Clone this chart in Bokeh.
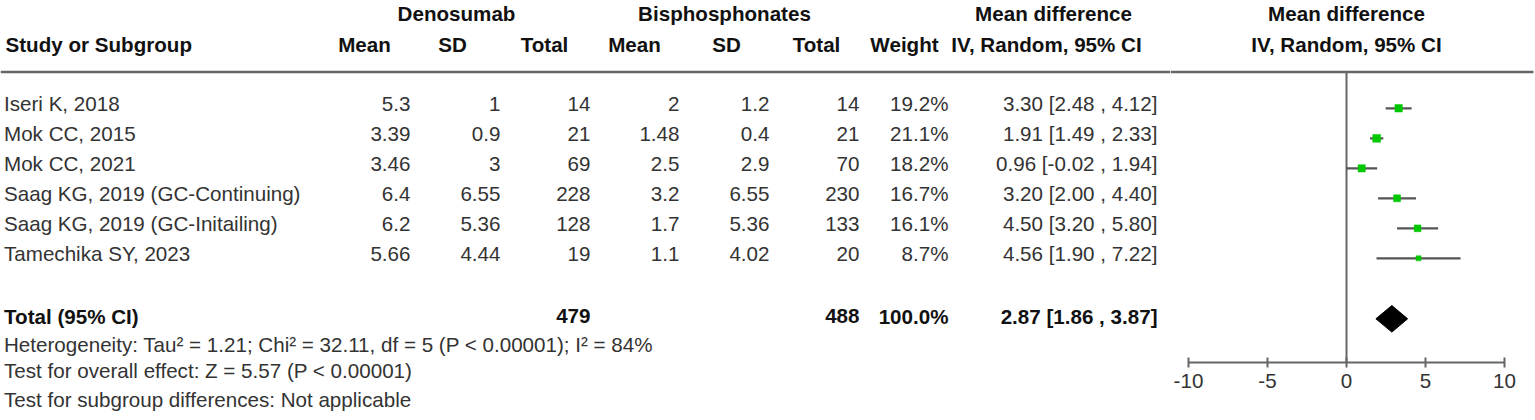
from bokeh.plotting import figure
from bokeh.layouts import row
from bokeh.models import Range1d, FixedTicker, Title, LinearAxis
from bokeh.core.properties import value
from bokeh.embed import file_html
from bokeh.resources import INLINE

# ---------------- data ----------------
studies = ["Iseri K, 2018", "Mok CC, 2015", "Mok CC, 2021",
           "Saag KG, 2019 (GC-Continuing)", "Saag KG, 2019 (GC-Initailing)",
           "Tamechika SY, 2023"]
den_mean = [5.3, 3.39, 3.46, 6.4, 6.2, 5.66]
den_sd = [1, 0.9, 3, 6.55, 5.36, 4.44]
den_total = [14, 21, 69, 228, 128, 19]
bis_mean = [2, 1.48, 2.5, 3.2, 1.7, 1.1]
bis_sd = [1.2, 0.4, 2.9, 6.55, 5.36, 4.02]
bis_total = [14, 21, 70, 230, 133, 20]
weight = [19.2, 21.1, 18.2, 16.7, 16.1, 8.7]
md = [3.30, 1.91, 0.96, 3.20, 4.50, 4.56]
ci_low = [2.48, 1.49, -0.02, 2.00, 3.20, 1.90]
ci_high = [4.12, 2.33, 1.94, 4.40, 5.80, 7.22]

total_den = 479
total_bis = 488
total_weight = 100.0
total_md = 2.87
total_low = 1.86
total_high = 3.87

heterogeneity = "Heterogeneity: Tau\u00b2 = 1.21; Chi\u00b2 = 32.11, df = 5 (P < 0.00001); I\u00b2 = 84%"
overall = "Test for overall effect: Z = 5.57 (P < 0.00001)"
subgroup = "Test for subgroup differences: Not applicable"
axis_ticks = [-10, -5, 0, 5, 10]

header1 = ["Denosumab", "Bisphosphonates", "Mean difference"]
header2 = ["Mean", "SD", "Total", "Mean", "SD", "Total", "Weight", "IV, Random, 95% CI"]
plot_header1 = "Mean difference"
plot_header2 = "IV, Random, 95% CI"
header_study = "Study or Subgroup"
total_label = "Total (95% CI)"

# ---------------- layout / style ----------------
FONT = "Liberation Sans"
FS = "20.6px"
TXT = "#333333"
BOLD = "#111111"
LINE = "#666666"
GREEN = "#00c800"

W, H = 1535, 420
LEFT_W = 1170
RIGHT_W = W - LEFT_W
AX_Y = 362                   # y of the plot's axis line (px from top)
ZERO_X, UNIT = 1346.0, 15.8  # px of 0 and px per unit on the MD scale

ROW0, ROW_H = 103.3, 30.0
MARK_DY = 4.5
H1_Y, H2_Y, HLINE_Y = 13.0, 44.0, 71.5
TOTAL_Y, HET_Y = 315.8, 344.0
DIAMOND_HALF = 13.3
LINE_END = 1533

NAME_X = 3.5
COL_RIGHT = [410, 500, 590, 679, 769, 859, 948, 1157]
H1_CENTER = [456, 724, 1053]
H2_CENTER = [364, 452, 544, 634, 726, 816, 904, 1046]
FOOT_STANDOFF = [-6.6, 14.6]


def fmt(v):
    return f"{v:g}"


row_y = [ROW0 + ROW_H * i for i in range(len(studies))]
mark_y = [y + MARK_DY for y in row_y]


def base_fig(width, xr):
    f = figure(width=width, height=H, output_backend="svg", toolbar_location=None,
               x_range=xr, y_range=Range1d(AX_Y, 0),
               x_axis_location=None, y_axis_location=None,
               min_border=0, min_border_left=0, min_border_right=0,
               min_border_top=0, min_border_bottom=H - AX_Y)
    f.grid.visible = False
    f.outline_line_color = None
    f.background_fill_color = "white"
    f.border_fill_color = "white"
    return f


def txt(f, xs, ys, texts, align, bold=False):
    f.text(x=xs, y=ys, text=texts, text_align=align, text_baseline="middle",
           text_font=value(FONT), text_font_size=FS,
           text_font_style="bold" if bold else "normal",
           text_color=BOLD if bold else TXT)


# ================= left: table =================
p = base_fig(LEFT_W, Range1d(0, LEFT_W))

txt(p, H1_CENTER, [H1_Y] * 3, header1, "center", bold=True)
txt(p, H2_CENTER, [H2_Y] * len(header2), header2, "center", bold=True)
txt(p, [5], [H2_Y], [header_study], "left", bold=True)
p.segment(x0=[0], y0=[HLINE_Y], x1=[LEFT_W], y1=[HLINE_Y],
          line_color=LINE, line_width=2.5)

n = len(studies)
txt(p, [NAME_X] * n, row_y, studies, "left")
columns = [
    [fmt(v) for v in den_mean],
    [fmt(v) for v in den_sd],
    [str(v) for v in den_total],
    [fmt(v) for v in bis_mean],
    [fmt(v) for v in bis_sd],
    [str(v) for v in bis_total],
    [f"{v:.1f}%" for v in weight],
    [f"{m:.2f} [{lo:.2f} , {hi:.2f}]" for m, lo, hi in zip(md, ci_low, ci_high)],
]
for xr, vals in zip(COL_RIGHT, columns):
    txt(p, [xr] * n, row_y, vals, "right")

txt(p, [NAME_X], [TOTAL_Y], [total_label], "left", bold=True)
txt(p, [COL_RIGHT[2], COL_RIGHT[5], COL_RIGHT[6], COL_RIGHT[7]], [TOTAL_Y] * 4,
    [str(total_den), str(total_bis), f"{total_weight:.1f}%",
     f"{total_md:.2f} [{total_low:.2f} , {total_high:.2f}]"], "right", bold=True)

txt(p, [NAME_X], [HET_Y], [heterogeneity], "left")
for t, so in zip([overall, subgroup], FOOT_STANDOFF):
    p.add_layout(Title(text=t, align="left", offset=NAME_X, standoff=so,
                       vertical_align="top", text_font=FONT, text_font_size=FS,
                       text_font_style="normal", text_color=TXT), "below")

# ================= right: forest plot =================
q = base_fig(RIGHT_W, Range1d((LEFT_W - ZERO_X) / UNIT, (W - ZERO_X) / UNIT))

txt(q, [0, 0], [H1_Y, H2_Y], [plot_header1, plot_header2], "center", bold=True)
q.segment(x0=[(LEFT_W - ZERO_X) / UNIT], y0=[HLINE_Y], x1=[(LINE_END - ZERO_X) / UNIT],
          y1=[HLINE_Y], line_color=LINE, line_width=2.5)
q.segment(x0=[0], y0=[HLINE_Y], x1=[0], y1=[AX_Y], line_color=LINE, line_width=2)
q.segment(x0=ci_low, y0=mark_y, x1=ci_high, y1=mark_y, line_color="#555555", line_width=2.2)
q.scatter(x=md, y=mark_y, marker="square", size=[1.7 * w ** 0.5 for w in weight],
          fill_color=GREEN, line_color=GREEN, line_width=0.5)
dy = TOTAL_Y + 2.5
q.patch(x=[total_low, total_md, total_high, total_md],
        y=[dy, dy - DIAMOND_HALF, dy, dy + DIAMOND_HALF],
        fill_color="black", line_color="black")

ax = LinearAxis()
ax.bounds = (min(axis_ticks), max(axis_ticks))
ax.ticker = FixedTicker(ticks=axis_ticks)
ax.major_label_overrides = {t: str(t) for t in axis_ticks}
ax.minor_tick_line_color = None
ax.major_tick_in = 5
ax.major_tick_out = 5
ax.major_tick_line_width = 2
ax.major_tick_line_color = LINE
ax.axis_line_width = 2
ax.axis_line_color = LINE
ax.major_label_text_font = FONT
ax.major_label_text_font_size = FS
ax.major_label_text_color = TXT
ax.major_label_standoff = 6
q.add_layout(ax, "below")

layout = row(p, q, spacing=0)
open("out.html", "w").write(file_html(layout, INLINE))
